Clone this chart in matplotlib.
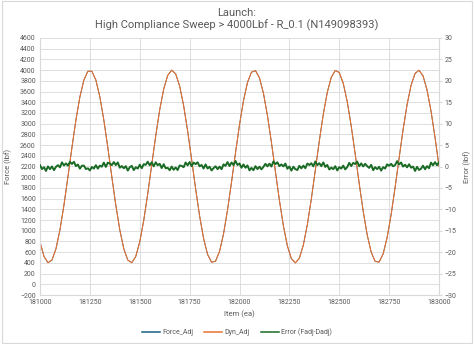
import matplotlib
matplotlib.use('Agg')
import matplotlib.pyplot as plt
from matplotlib.patches import Rectangle

plt.rcParams['font.family'] = ['Roboto', 'DejaVu Sans']

# item numbers start here; dyn sampled every 20 items, error every 10
item_start = 181000
dyn_step = 20
err_step = 10

dyn_adj = [792, 520, 404, 453, 663, 1016, 1478, 2007, 2553, 3067,
           3501, 3815, 3979, 3979, 3815, 3501, 3067, 2553, 2007, 1478,
           1016, 663, 453, 404, 520, 792, 1194, 1689, 2231, 2771,
           3257, 3646, 3901, 3999, 3931, 3703, 3336, 2864, 2331, 1785,
           1278, 856, 558, 412, 432, 614, 943, 1388, 1908, 2455,
           2979, 3430, 3769, 3961, 3992, 3856, 3568, 3153, 2650, 2106,
           1570, 1092, 717, 479, 400, 487, 733, 1114, 1594, 2132,
           2676, 3175, 3585, 3866, 3994, 3956, 3755, 3411, 2955, 2429,
           1882, 1365, 924, 602, 427, 416, 569, 874, 1301, 1811,
           2357, 2889, 3357, 3717, 3938, 3998, 3892, 3630, 3235, 2745,
           2205]
# force follows dyn within ~1 lbf, so it sits hidden under the orange trace
force_adj = list(dyn_adj)

error_adj = [0.32, -0.61, -0.16, -1.03, 0.02, -0.62, 0.01, -0.85, -0.09, 0.32,
             -0.20, 0.97, 0.24, 0.72, 0.20, 1.07, 0.59, 1.09, 0.09, 0.46,
             -0.51, 0.19, 0.20, -0.59, -0.42, -0.92, -0.11, -0.49, 0.31, -0.50,
             0.21, -0.05, 0.91, -0.10, 0.90, 0.69, 0.33, 1.03, 0.33, 0.95,
             -0.29, 0.11, -0.42, 0.08, -0.95, -0.17, 0.15, -0.83, -0.18, -0.48,
             0.42, -0.41, 0.55, 0.39, 1.13, 0.28, 0.97, 0.04, 0.98, 0.30,
             0.62, -0.37, 0.52, -0.42, -0.30, -0.87, -0.02, -0.77, -0.22, -0.82,
             0.23, 0.15, -0.17, 0.94, 0.28, 1.04, 0.07, 0.91, 0.55, 0.98,
             0.04, 0.36, -0.47, 0.49, -0.47, -0.05, -0.92, -0.38, 0.05, -0.63,
             -0.03, -0.63, 0.50, 0.16, 1.03, 0.11, 0.93, 0.34, 1.29, 0.35,
             0.71, -0.30, 0.48, -0.30, 0.25, -0.90, -0.32, -0.86, 0.08, -0.61,
             -0.04, -0.67, -0.08, 0.63, 0.02, 0.67, 0.00, 1.17, 0.55, 0.98,
             0.09, 0.49, 0.01, 0.69, -0.53, 0.00, -0.96, -0.06, -0.61, -0.82,
             0.15, -0.44, 0.21, -0.40, 0.69, 0.34, 0.76, 0.04, 1.18, 0.33,
             0.76, 0.09, 0.95, -0.10, 0.36, -0.70, -0.25, -0.63, 0.07, -0.92,
             -0.15, -0.48, 0.21, -0.67, -0.14, 0.85, 0.11, 0.84, 0.58, 1.14,
             0.06, 0.73, 0.01, 0.63, 0.08, -0.33, 0.39, -0.85, -0.16, -0.61,
             -0.08, -0.96, -0.16, -0.48, 0.50, 0.18, 0.62, 0.05, 0.35, 1.25,
             0.48, 0.94, -0.03, 0.42, -0.20, 0.52, -0.27, -0.02, -1.04, -0.08,
             -0.81, -0.51, 0.19, -0.65, 0.09, -0.40, 0.91, 0.27, 1.01, 0.30,
             1.00]

x_ticks = list(range(181000, 183001, 250))
force_ticks = list(range(-200, 4601, 200))
error_ticks = list(range(-30, 31, 5))

dyn_items = [item_start + dyn_step * i for i in range(len(dyn_adj))]
err_items = [item_start + err_step * i for i in range(len(error_adj))]

grey = '#595959'
grid = '#D9D9D9'

fig = plt.figure(figsize=(4.74, 3.44), dpi=100)
ax = fig.add_axes([40 / 474, 1 - 295 / 344, 399 / 474, 257 / 344])
ax2 = ax.twinx()

l1, = ax.plot(dyn_items, force_adj, color='#156082', lw=0.6, label='Force_Adj')
l2, = ax.plot(dyn_items, dyn_adj, color='#E97132', lw=0.8, label='Dyn_Adj')
l3, = ax2.plot(err_items, error_adj, color='#196B24', lw=1.4, label='Error (Fadj-Dadj)')

ax.set_xlim(181000, 183000)
ax.set_ylim(-200, 4600)
ax2.set_ylim(-30, 30)
ax.set_xticks(x_ticks)
ax.set_yticks(force_ticks)
ax2.set_yticks(error_ticks)

ax.grid(True, color=grid, lw=0.6)
ax.set_axisbelow(True)
for a in (ax, ax2):
    for s in a.spines.values():
        s.set_visible(False)
ax.spines['left'].set_visible(True)
ax.spines['left'].set_color(grid)
ax2.spines['right'].set_visible(True)
ax2.spines['right'].set_color(grid)
ax2.spines['bottom'].set_visible(True)
ax2.spines['bottom'].set_color(grid)

ax.tick_params(axis='both', labelsize=5, colors=grey, length=0, pad=3)
ax2.tick_params(axis='y', labelsize=5, colors=grey, length=2, color=grid, pad=2)

ax.set_ylabel('Force (lbf)', fontsize=5.5, color=grey, labelpad=6)
ax2.set_ylabel('Error (lbf)', fontsize=5.5, color=grey, labelpad=5)
ax.set_xlabel('Item (ea)', fontsize=5.5, color=grey, labelpad=3)

fig.text(0.5, 1 - 13 / 344, 'Launch:', ha='center', va='center', fontsize=8, color=grey)
fig.text(0.5, 1 - 25 / 344, 'High Compliance Sweep > 4000Lbf - R_0.1 (N149098393)',
         ha='center', va='center', fontsize=8, color=grey)

leg = fig.legend(handles=[l1, l2, l3], loc='center', bbox_to_anchor=(0.5, 1 - 332 / 344),
                 ncol=3, frameon=False, fontsize=5, handlelength=2.6, columnspacing=1.6,
                 handletextpad=0.3, labelcolor=grey)
for h in leg.get_lines():
    h.set_linewidth(1.1)

fig.patches.append(Rectangle((0.004, 0.004), 0.992, 0.992, transform=fig.transFigure,
                             fill=False, edgecolor=grid, lw=0.8))

fig.savefig('out.png', dpi=100)
